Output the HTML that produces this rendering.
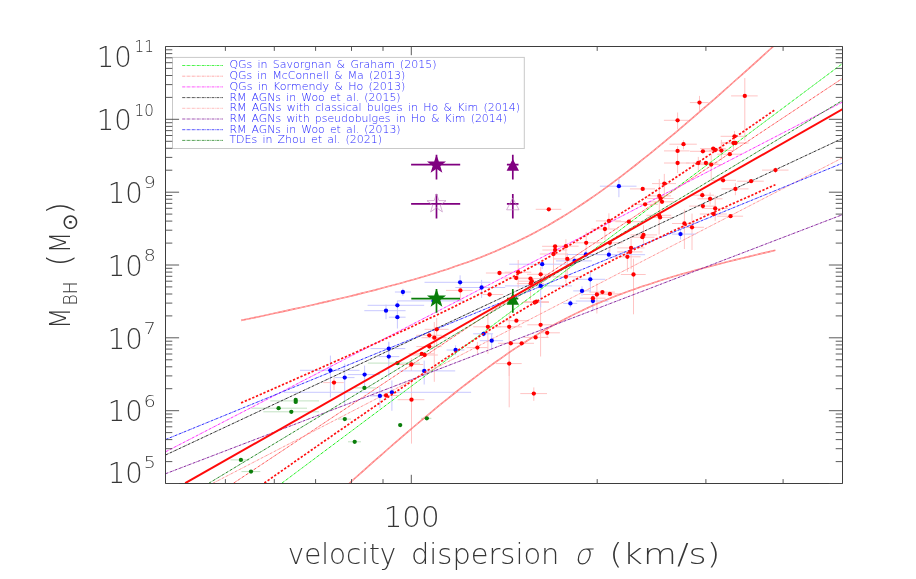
<!DOCTYPE html>
<html lang="en"><head><meta charset="utf-8"><title>M_BH - sigma relation</title>
<style>
html,body{margin:0;padding:0;background:#fff;}
body{width:916px;height:579px;overflow:hidden;}
svg{display:block;}
text{font-family:"DejaVu Sans","Liberation Sans",sans-serif;font-weight:200;fill:#363636;}
.lg text{fill:#1c1cff;font-size:11px;word-spacing:1.7px;}
.ax{stroke:#333;stroke-width:0.95;fill:none;}
.dd{fill:none;stroke-width:1;stroke-dasharray:2.8 0.7 0.7 0.7;}
.er{stroke:#ffc4c4;stroke-width:1;fill:none;}
.eb{stroke:#c8c8ff;stroke-width:1;fill:none;}
.eg{stroke:#c2e2c2;stroke-width:1;fill:none;}
</style></head><body>
<svg width="916" height="579" viewBox="0 0 916 579">
<rect x="0" y="0" width="916" height="579" fill="#fff"/>
<defs><clipPath id="cp"><rect x="165.5" y="46.5" width="677.0" height="437.0"/></clipPath></defs>
<rect x="172.5" y="57.4" width="351.8" height="91.1" fill="none" stroke="#c9c9c9" stroke-width="1"/>
<g clip-path="url(#cp)">
<path class="er" d="M372.5 395.5H399.2M397.6 399.7H424.4M411.5 380.0V443.6M473.2 326.8H501.1M487.9 314.0V353.9M496.0 326.8H522.0M509.2 313.0V407.3M503.4 320.7H528.9M527.3 324.8H552.5M540.6 303.3V356.5M540.0 332.8H559.9M547.2 328.0V338.0M524.0 337.4H548.6M508.9 343.3H534.0M498.1 343.3H523.1M495.9 363.6H521.7M509.2 352.0V376.0M520.3 393.6H547.0M533.8 387.4V400.9M446.0 290.4H472.6M460.4 290.0V300.5M424.6 329.3H448.6M436.7 318.0V345.0M416.2 335.3H441.9M421.5 337.7H446.6M434.3 322.0V381.8M416.4 346.6H441.7M408.6 353.8H434.5M410.8 355.0H437.9M395.4 364.5H423.2M411.3 358.0V371.0M466.5 347.6H487.8M477.4 341.9V353.9M323.2 382.6H343.8M334.0 377.5V390.1M482.6 294.5H503.2M485.9 273.0H511.8M504.6 272.2H531.3M518.2 260.0V288.0M503.4 278.0H528.5M517.0 278.6H541.0M530.5 278.6V300.0M518.3 281.2H544.7M516.9 283.6H544.0M527.0 274.3H553.8M540.7 267.0V282.0M542.1 246.3H567.6M542.4 250.0H567.3M539.8 254.0H566.7M553.5 254.0V271.8M521.8 302.5H549.0M523.4 301.6H548.9M535.7 209.3H561.3M548.8 207.5V211.0M552.7 246.2H578.6M565.9 239.2V258.5M554.0 258.9H580.1M567.3 253.2V277.0M574.6 242.8H598.5M586.2 231.9V251.9M591.4 229.0H617.8M604.9 222.6V239.9M595.9 220.9H621.1M608.9 213.3V228.6M596.4 242.8H622.7M609.8 242.8V251.9M615.4 221.7H641.9M631.8 204.3H657.9M630.5 234.9H657.0M643.5 225.3V245.2M629.8 237.2H654.5M617.1 247.9H644.6M631.1 238.6V269.2M617.2 251.9H642.5M613.7 256.8H640.6M627.4 256.7V271.8M620.9 274.5H645.7M633.5 258.7V314.3M646.5 215.3H671.2M659.1 215.0V234.6M647.1 217.4H672.6M552.3 276.8H579.0M565.9 268.3V282.9M669.4 144.2H696.8M683.5 140.3V149.3M664.0 150.9H689.6M677.6 146.2V150.9M664.0 163.0H689.6M677.6 150.9V173.1M690.0 151.3H715.3M700.0 148.6H725.9M701.8 150.0H728.1M709.0 150.6H733.5M721.4 139.9V160.5M720.6 136.3H747.0M734.5 131.0V143.0M720.6 143.0H747.0M733.5 143.0V150.0M721.9 143.0H748.6M717.1 154.2H742.0M686.0 163.0H710.0M698.3 156.9V170.4M692.9 163.0H718.4M699.0 164.6H723.0M711.2 154.2V180.3M709.7 180.3H736.0M737.2 181.2H763.8M721.4 188.9H748.5M735.4 183.2V195.2M690.0 195.2H714.0M702.3 191.0V199.0M697.5 198.8H722.5M710.1 192.5V204.5M689.1 206.1H716.1M652.0 183.6H676.0M664.3 173.9V199.2M629.9 188.9H655.0M647.0 195.9H671.0M659.3 179.0V212.0M647.1 198.5H673.6M648.1 201.8H675.4M663.9 120.3H688.5M677.6 112.5V129.2M689.9 102.6H708.5M699.5 95.9V111.2M731.1 95.9H757.7M744.8 78.0V140.6M589.4 292.1H614.9M596.5 293.9H622.8M717.2 216.2H743.1M672.0 223.5H696.0M684.4 209.6V249.0M680.0 227.3H704.0M692.0 213.6V250.0M762.0 170.1H788.5M775.5 167.5V173.0M702.0 208.5H727.9M715.2 195.6V220.9M699.8 214.0H726.9M579.7 298.2H605.6M583.1 294.5H610.2M596.9 283.6V313.5"/>
<path class="eb" d="M370.0 395.9H389.0M379.9 387.0V408.0M283.7 392.3H471.1M391.9 380.5V410.8M473.2 333.8H493.1M483.6 332.0V336.6M479.8 340.7H503.1M491.7 333.9V348.6M563.2 303.4H577.2M570.4 300.0V307.3M575.8 301.0H608.4M592.9 294.0V310.0M394.9 292.0H410.9M402.9 288.6V295.9M367.6 305.3H424.2M397.4 300.6V311.0M364.3 310.7H405.6M386.0 304.6V319.2M388.9 317.2H405.6M397.4 311.0V328.5M446.6 350.0H464.5M455.6 345.3V355.2M370.5 348.6H405.3M388.8 341.7V355.6M378.5 356.6H399.3M388.8 342.3V377.4M399.3 370.9H455.2M424.2 360.6V384.5M300.0 370.3H359.6M330.4 355.6V397.5M334.5 377.6H354.5M344.7 363.6V405.5M347.8 374.6H379.8M364.6 365.6V386.9M424.5 282.3H490.5M460.1 275.3V285.9M455.3 287.5H505.2M481.6 279.9V297.9M509.2 264.2H574.6M542.2 260.0V269.0M505.0 285.9H572.0M540.7 286.0V307.3M556.0 260.9H591.9M574.6 257.0V265.0M566.6 254.5H606.5M585.9 251.0V258.5M595.9 254.7H645.1M608.9 250.0V258.5M672.0 234.1H695.9M680.5 228.9V239.5M573.3 279.3H605.2M590.3 270.3V292.2M573.2 290.9H590.5M582.0 286.3V295.6M599.9 186.2H636.5M618.9 178.6V197.2M397.6 300.9H464.0M433.5 297.0V305.0"/>
<path class="eg" d="M270.3 400.9H319.0M251.4 408.2H307.0M263.3 411.8H319.0M230.5 459.9H249.4M241.5 471.6H260.3M354.5 387.9H375.8M338.0 419.1H351.0M421.0 418.3H431.4M348.0 441.8H361.0M367.8 363.1H420.0"/>
<path d="M241.1 320.4L247.8 319.0L254.5 317.6L261.1 316.2L267.8 314.7L274.5 313.3L281.2 311.9L287.9 310.4L294.5 308.9L301.2 307.5L307.9 306.0L314.6 304.5L321.2 302.9L327.9 301.4L334.6 299.8L341.3 298.3L348.0 296.7L354.6 295.1L361.3 293.4L368.0 291.7L374.7 290.1L381.4 288.3L388.0 286.6L394.7 284.8L401.4 283.0L408.1 281.1L414.7 279.2L421.4 277.2L428.1 275.2L434.8 273.2L441.5 271.1L448.1 268.9L454.8 266.6L461.5 264.3L468.2 261.9L474.9 259.4L481.5 256.9L488.2 254.2L494.9 251.5L501.6 248.6L508.2 245.6L514.9 242.5L521.6 239.3L528.3 236.0L535.0 232.5L541.6 228.9L548.3 225.2L555.0 221.3L561.7 217.3L568.4 213.1L575.0 208.9L581.7 204.5L588.4 200.0L595.1 195.4L601.8 190.6L608.4 185.8L615.1 180.8L621.8 175.8L628.5 170.7L635.1 165.5L641.8 160.2L648.5 154.8L655.2 149.4L661.9 143.9L668.5 138.4L675.2 132.8L681.9 127.1L688.6 121.4L695.3 115.7L701.9 109.9L708.6 104.1L715.3 98.3L722.0 92.4L728.6 86.5L735.3 80.5L742.0 74.6L748.7 68.6L755.4 62.6L762.0 56.6L768.7 50.5L775.4 44.5" fill="none" stroke="#ff8080" stroke-width="1.6"/>
<path d="M241.1 320.4L247.8 319.0L254.5 317.6L261.1 316.2L267.8 314.7L274.5 313.3L281.2 311.9L287.9 310.4L294.5 308.9L301.2 307.5L307.9 306.0L314.6 304.5L321.2 302.9L327.9 301.4L334.6 299.8L341.3 298.3L348.0 296.7L354.6 295.1L361.3 293.4L368.0 291.7L374.7 290.1L381.4 288.3L388.0 286.6L394.7 284.8L401.4 283.0L408.1 281.1L414.7 279.2L421.4 277.2L428.1 275.2L434.8 273.2L441.5 271.1L448.1 268.9L454.8 266.6L461.5 264.3L468.2 261.9L474.9 259.4L481.5 256.9L488.2 254.2L494.9 251.5L501.6 248.6L508.2 245.6L514.9 242.5L521.6 239.3L528.3 236.0L535.0 232.5L541.6 228.9L548.3 225.2L555.0 221.3L561.7 217.3L568.4 213.1L575.0 208.9L581.7 204.5L588.4 200.0L595.1 195.4L601.8 190.6L608.4 185.8L615.1 180.8L621.8 175.8L628.5 170.7L635.1 165.5L641.8 160.2L648.5 154.8L655.2 149.4L661.9 143.9L668.5 138.4L675.2 132.8L681.9 127.1L688.6 121.4L695.3 115.7L701.9 109.9L708.6 104.1L715.3 98.3L722.0 92.4L728.6 86.5L735.3 80.5L742.0 74.6L748.7 68.6L755.4 62.6L762.0 56.6L768.7 50.5L775.4 44.5" fill="none" stroke="#ffd0d0" stroke-width="0.6" stroke-dasharray="3 2"/>
<path d="M241.1 582.4L247.8 576.2L254.5 570.0L261.1 563.8L267.8 557.7L274.5 551.5L281.2 545.3L287.9 539.2L294.5 533.0L301.2 526.9L307.9 520.8L314.6 514.7L321.2 508.6L327.9 502.6L334.6 496.5L341.3 490.5L348.0 484.5L354.6 478.5L361.3 472.6L368.0 466.6L374.7 460.7L381.4 454.9L388.0 449.0L394.7 443.2L401.4 437.4L408.1 431.7L414.7 426.0L421.4 420.4L428.1 414.8L434.8 409.2L441.5 403.7L448.1 398.3L454.8 393.0L461.5 387.7L468.2 382.5L474.9 377.3L481.5 372.3L488.2 367.4L494.9 362.5L501.6 357.8L508.2 353.2L514.9 348.7L521.6 344.3L528.3 340.0L535.0 335.9L541.6 331.9L548.3 328.0L555.0 324.3L561.7 320.7L568.4 317.2L575.0 313.9L581.7 310.7L588.4 307.6L595.1 304.6L601.8 301.8L608.4 299.0L615.1 296.3L621.8 293.8L628.5 291.3L635.1 288.9L641.8 286.6L648.5 284.4L655.2 282.2L661.9 280.1L668.5 278.0L675.2 276.0L681.9 274.1L688.6 272.2L695.3 270.3L701.9 268.5L708.6 266.7L715.3 264.9L722.0 263.2L728.6 261.5L735.3 259.9L742.0 258.2L748.7 256.6L755.4 255.0L762.0 253.4L768.7 251.9L775.4 250.3" fill="none" stroke="#ff8080" stroke-width="1.6"/>
<path d="M241.1 582.4L247.8 576.2L254.5 570.0L261.1 563.8L267.8 557.7L274.5 551.5L281.2 545.3L287.9 539.2L294.5 533.0L301.2 526.9L307.9 520.8L314.6 514.7L321.2 508.6L327.9 502.6L334.6 496.5L341.3 490.5L348.0 484.5L354.6 478.5L361.3 472.6L368.0 466.6L374.7 460.7L381.4 454.9L388.0 449.0L394.7 443.2L401.4 437.4L408.1 431.7L414.7 426.0L421.4 420.4L428.1 414.8L434.8 409.2L441.5 403.7L448.1 398.3L454.8 393.0L461.5 387.7L468.2 382.5L474.9 377.3L481.5 372.3L488.2 367.4L494.9 362.5L501.6 357.8L508.2 353.2L514.9 348.7L521.6 344.3L528.3 340.0L535.0 335.9L541.6 331.9L548.3 328.0L555.0 324.3L561.7 320.7L568.4 317.2L575.0 313.9L581.7 310.7L588.4 307.6L595.1 304.6L601.8 301.8L608.4 299.0L615.1 296.3L621.8 293.8L628.5 291.3L635.1 288.9L641.8 286.6L648.5 284.4L655.2 282.2L661.9 280.1L668.5 278.0L675.2 276.0L681.9 274.1L688.6 272.2L695.3 270.3L701.9 268.5L708.6 266.7L715.3 264.9L722.0 263.2L728.6 261.5L735.3 259.9L742.0 258.2L748.7 256.6L755.4 255.0L762.0 253.4L768.7 251.9L775.4 250.3" fill="none" stroke="#ffd0d0" stroke-width="0.6" stroke-dasharray="3 2"/>
<line class="dd" x1="281.8" y1="483.2" x2="842.7" y2="63.4" stroke="#22f022" stroke-width="1.2"/>
<line class="dd" x1="233.5" y1="483.2" x2="842.7" y2="78.2" stroke="#ff5a5a" stroke-width="1.1"/>
<line class="dd" x1="165.4" y1="451.9" x2="842.7" y2="102.0" stroke="#ff30ff" stroke-width="1.0"/>
<line class="dd" x1="165.4" y1="455.1" x2="842.7" y2="138.3" stroke="#303030" stroke-width="1.0"/>
<line class="dd" x1="213.0" y1="483.2" x2="842.7" y2="157.7" stroke="#ff9a9a" stroke-width="1.2"/>
<line class="dd" x1="165.4" y1="473.8" x2="842.7" y2="214.6" stroke="#8a2aa0" stroke-width="1.5"/>
<line class="dd" x1="165.4" y1="439.6" x2="842.7" y2="163.1" stroke="#3030ff" stroke-width="1.0"/>
<line class="dd" x1="208.9" y1="483.2" x2="842.7" y2="100.3" stroke="#2a8a2a" stroke-width="1.0"/>
<g fill="#0a7d0a"><circle cx="295.7" cy="399.9" r="2.15"/><circle cx="295.7" cy="401.9" r="2.15"/><circle cx="278.6" cy="408.2" r="2.15"/><circle cx="291.3" cy="411.8" r="2.15"/><circle cx="240.9" cy="459.9" r="2.15"/><circle cx="251.0" cy="471.6" r="2.15"/><circle cx="364.4" cy="387.9" r="2.15"/><circle cx="344.8" cy="419.1" r="2.15"/><circle cx="400.2" cy="425.1" r="2.15"/><circle cx="426.8" cy="418.3" r="2.15"/><circle cx="354.7" cy="441.8" r="2.15"/><circle cx="397.5" cy="363.1" r="2.15"/></g>
<g fill="#0000ff"><circle cx="379.9" cy="395.9" r="2.15"/><circle cx="391.9" cy="392.3" r="2.15"/><circle cx="483.6" cy="333.8" r="2.15"/><circle cx="491.7" cy="340.7" r="2.15"/><circle cx="570.4" cy="303.4" r="2.15"/><circle cx="592.9" cy="301.0" r="2.15"/><circle cx="402.9" cy="292.0" r="2.15"/><circle cx="397.4" cy="305.3" r="2.15"/><circle cx="386.0" cy="310.7" r="2.15"/><circle cx="397.4" cy="317.2" r="2.15"/><circle cx="455.6" cy="350.0" r="2.15"/><circle cx="388.8" cy="348.6" r="2.15"/><circle cx="388.8" cy="356.6" r="2.15"/><circle cx="424.2" cy="370.9" r="2.15"/><circle cx="330.4" cy="370.3" r="2.15"/><circle cx="344.7" cy="377.6" r="2.15"/><circle cx="364.6" cy="374.6" r="2.15"/><circle cx="460.1" cy="282.3" r="2.15"/><circle cx="481.6" cy="287.5" r="2.15"/><circle cx="542.2" cy="264.2" r="2.15"/><circle cx="540.7" cy="285.9" r="2.15"/><circle cx="574.6" cy="260.9" r="2.15"/><circle cx="585.9" cy="254.5" r="2.15"/><circle cx="608.9" cy="254.7" r="2.15"/><circle cx="680.5" cy="234.1" r="2.15"/><circle cx="590.3" cy="279.3" r="2.15"/><circle cx="582.0" cy="290.9" r="2.15"/><circle cx="618.9" cy="186.2" r="2.15"/><circle cx="433.5" cy="300.9" r="2.15"/></g>
<g fill="#ff0000"><circle cx="386.1" cy="395.5" r="2.15"/><circle cx="411.5" cy="399.7" r="2.15"/><circle cx="487.9" cy="326.8" r="2.15"/><circle cx="509.2" cy="326.8" r="2.15"/><circle cx="516.4" cy="320.7" r="2.15"/><circle cx="540.6" cy="324.8" r="2.15"/><circle cx="547.2" cy="332.8" r="2.15"/><circle cx="535.6" cy="337.4" r="2.15"/><circle cx="521.7" cy="343.3" r="2.15"/><circle cx="510.8" cy="343.3" r="2.15"/><circle cx="509.2" cy="363.6" r="2.15"/><circle cx="533.8" cy="393.6" r="2.15"/><circle cx="460.4" cy="290.4" r="2.15"/><circle cx="436.7" cy="329.3" r="2.15"/><circle cx="429.3" cy="335.3" r="2.15"/><circle cx="434.3" cy="337.7" r="2.15"/><circle cx="429.3" cy="346.6" r="2.15"/><circle cx="421.8" cy="353.8" r="2.15"/><circle cx="424.6" cy="355.0" r="2.15"/><circle cx="411.3" cy="364.5" r="2.15"/><circle cx="477.4" cy="347.6" r="2.15"/><circle cx="334.0" cy="382.6" r="2.15"/><circle cx="489.6" cy="294.5" r="2.15"/><circle cx="499.5" cy="273.0" r="2.15"/><circle cx="518.2" cy="272.2" r="2.15"/><circle cx="516.2" cy="278.0" r="2.15"/><circle cx="530.5" cy="278.6" r="2.15"/><circle cx="531.8" cy="281.2" r="2.15"/><circle cx="530.7" cy="283.6" r="2.15"/><circle cx="540.7" cy="274.3" r="2.15"/><circle cx="555.1" cy="246.3" r="2.15"/><circle cx="555.1" cy="250.0" r="2.15"/><circle cx="553.5" cy="254.0" r="2.15"/><circle cx="534.7" cy="302.5" r="2.15"/><circle cx="536.4" cy="301.6" r="2.15"/><circle cx="548.8" cy="209.3" r="2.15"/><circle cx="565.9" cy="246.2" r="2.15"/><circle cx="567.3" cy="258.9" r="2.15"/><circle cx="586.2" cy="242.8" r="2.15"/><circle cx="604.9" cy="229.0" r="2.15"/><circle cx="608.9" cy="220.9" r="2.15"/><circle cx="609.8" cy="242.8" r="2.15"/><circle cx="628.9" cy="221.7" r="2.15"/><circle cx="645.1" cy="204.3" r="2.15"/><circle cx="643.5" cy="234.9" r="2.15"/><circle cx="642.4" cy="237.2" r="2.15"/><circle cx="631.1" cy="247.9" r="2.15"/><circle cx="630.1" cy="251.9" r="2.15"/><circle cx="627.4" cy="256.8" r="2.15"/><circle cx="633.5" cy="274.5" r="2.15"/><circle cx="659.1" cy="215.3" r="2.15"/><circle cx="660.1" cy="217.4" r="2.15"/><circle cx="565.9" cy="276.8" r="2.15"/><circle cx="683.5" cy="144.2" r="2.15"/><circle cx="677.6" cy="150.9" r="2.15"/><circle cx="677.6" cy="163.0" r="2.15"/><circle cx="702.9" cy="151.3" r="2.15"/><circle cx="713.2" cy="148.6" r="2.15"/><circle cx="715.2" cy="150.0" r="2.15"/><circle cx="721.4" cy="150.6" r="2.15"/><circle cx="734.5" cy="136.3" r="2.15"/><circle cx="733.5" cy="143.0" r="2.15"/><circle cx="735.5" cy="143.0" r="2.15"/><circle cx="729.8" cy="154.2" r="2.15"/><circle cx="698.3" cy="163.0" r="2.15"/><circle cx="705.9" cy="163.0" r="2.15"/><circle cx="711.2" cy="164.6" r="2.15"/><circle cx="723.1" cy="180.3" r="2.15"/><circle cx="751.1" cy="181.2" r="2.15"/><circle cx="735.4" cy="188.9" r="2.15"/><circle cx="702.3" cy="195.2" r="2.15"/><circle cx="710.1" cy="198.8" r="2.15"/><circle cx="702.9" cy="206.1" r="2.15"/><circle cx="664.3" cy="183.6" r="2.15"/><circle cx="642.7" cy="188.9" r="2.15"/><circle cx="659.3" cy="195.9" r="2.15"/><circle cx="660.6" cy="198.5" r="2.15"/><circle cx="662.0" cy="201.8" r="2.15"/><circle cx="677.6" cy="120.3" r="2.15"/><circle cx="699.5" cy="102.6" r="2.15"/><circle cx="744.8" cy="95.9" r="2.15"/><circle cx="602.4" cy="292.1" r="2.15"/><circle cx="609.9" cy="293.9" r="2.15"/><circle cx="730.5" cy="216.2" r="2.15"/><circle cx="684.4" cy="223.5" r="2.15"/><circle cx="692.0" cy="227.3" r="2.15"/><circle cx="775.5" cy="170.1" r="2.15"/><circle cx="715.2" cy="208.5" r="2.15"/><circle cx="713.6" cy="214.0" r="2.15"/><circle cx="592.9" cy="298.2" r="2.15"/><circle cx="596.9" cy="294.5" r="2.15"/></g>
<path d="M411.1 164.7H460.2M436.5 154.7V179.4" stroke="#800080" stroke-width="1.7" fill="none"/>
<polygon points="436.50,154.70 438.85,161.46 446.01,161.61 440.30,165.94 442.38,172.79 436.50,168.70 430.62,172.79 432.70,165.94 426.99,161.61 434.15,161.46" fill="#800080"/>
<path d="M411.1 203.8H460.2M436.5 193.9V218.4" stroke="#800080" stroke-width="1.7" fill="none"/>
<polygon points="436.50,193.80 438.85,200.56 446.01,200.71 440.30,205.04 442.38,211.89 436.50,207.80 430.62,211.89 432.70,205.04 426.99,200.71 434.15,200.56" fill="none" stroke="#c088c0" stroke-width="0.65"/>
<path d="M506.9 164.7H518.5M512.8 154.7V179.4" stroke="#800080" stroke-width="1.7" fill="none"/>
<polygon points="512.8,158.9 519,170.7 506.6,170.7" fill="#800080"/>
<path d="M506.9 203.8H518.5M512.8 193.9V218.4" stroke="#800080" stroke-width="1.7" fill="none"/>
<polygon points="512.8,198 519,209.8 506.6,209.8" fill="none" stroke="#c088c0" stroke-width="0.65"/>
<path d="M411.3 298.7H460M436.5 288.9V312.8" stroke="#087d08" stroke-width="1.7" fill="none"/>
<polygon points="436.50,288.70 438.85,295.46 446.01,295.61 440.30,299.94 442.38,306.79 436.50,302.70 430.62,306.79 432.70,299.94 426.99,295.61 434.15,295.46" fill="#087d08"/>
<path d="M507 298.7H518.3M512.8 288.9V312.8" stroke="#087d08" stroke-width="1.7" fill="none"/>
<polygon points="512.8,293.2 519,304.7 506.6,304.7" fill="#087d08"/>
<path d="M241.1 402.9L247.8 400.0L254.5 397.1L261.1 394.2L267.8 391.2L274.5 388.3L281.2 385.4L287.9 382.4L294.5 379.5L301.2 376.5L307.9 373.6L314.6 370.6L321.2 367.7L327.9 364.7L334.6 361.7L341.3 358.7L348.0 355.8L354.6 352.8L361.3 349.8L368.0 346.7L374.7 343.7L381.4 340.7L388.0 337.6L394.7 334.6L401.4 331.5L408.1 328.4L414.7 325.3L421.4 322.2L428.1 319.0L434.8 315.9L441.5 312.7L448.1 309.5L454.8 306.3L461.5 303.0L468.2 299.7L474.9 296.4L481.5 293.1L488.2 289.7L494.9 286.3L501.6 282.8L508.2 279.3L514.9 275.8L521.6 272.2L528.3 268.6L535.0 264.9L541.6 261.2L548.3 257.4L555.0 253.6L561.7 249.7L568.4 245.8L575.0 241.8L581.7 237.8L588.4 233.8L595.1 229.7L601.8 225.6L608.4 221.4L615.1 217.2L621.8 212.9L628.5 208.6L635.1 204.3L641.8 200.0L648.5 195.6L655.2 191.2L661.9 186.8L668.5 182.4L675.2 177.9L681.9 173.5L688.6 169.0L695.3 164.5L701.9 159.9L708.6 155.4L715.3 150.8L722.0 146.3L728.6 141.7L735.3 137.1L742.0 132.5L748.7 127.9L755.4 123.3L762.0 118.7L768.7 114.1L775.4 109.5" fill="none" stroke="#ff1010" stroke-width="1.7" stroke-dasharray="2.3 1.75"/>
<path d="M241.1 499.3L247.8 494.6L254.5 490.0L261.1 485.3L267.8 480.6L274.5 475.9L281.2 471.2L287.9 466.6L294.5 461.9L301.2 457.2L307.9 452.6L314.6 447.9L321.2 443.3L327.9 438.7L334.6 434.0L341.3 429.4L348.0 424.8L354.6 420.2L361.3 415.6L368.0 411.0L374.7 406.4L381.4 401.8L388.0 397.2L394.7 392.7L401.4 388.1L408.1 383.6L414.7 379.1L421.4 374.6L428.1 370.1L434.8 365.7L441.5 361.2L448.1 356.8L454.8 352.4L461.5 348.1L468.2 343.7L474.9 339.4L481.5 335.1L488.2 330.9L494.9 326.7L501.6 322.5L508.2 318.4L514.9 314.3L521.6 310.3L528.3 306.3L535.0 302.4L541.6 298.5L548.3 294.7L555.0 290.9L561.7 287.2L568.4 283.5L575.0 279.9L581.7 276.3L588.4 272.7L595.1 269.3L601.8 265.8L608.4 262.4L615.1 259.0L621.8 255.7L628.5 252.4L635.1 249.1L641.8 245.9L648.5 242.7L655.2 239.5L661.9 236.3L668.5 233.2L675.2 230.0L681.9 226.9L688.6 223.8L695.3 220.7L701.9 217.7L708.6 214.6L715.3 211.6L722.0 208.6L728.6 205.5L735.3 202.5L742.0 199.5L748.7 196.6L755.4 193.6L762.0 190.6L768.7 187.6L775.4 184.7" fill="none" stroke="#ff1010" stroke-width="1.7" stroke-dasharray="2.3 1.75"/>
<line x1="185.2" y1="483.2" x2="842.7" y2="109.1" stroke="#ff0a0a" stroke-width="1.95"/>
</g>
<path class="ax" d="M165.5 46.5H842.5V483.5H165.5Z"/>
<path class="ax" style="stroke:#484848;stroke-width:0.9" d="M225.4 483.5v-4.4M225.4 46.5v4.4M274.3 483.5v-4.4M274.3 46.5v4.4M315.6 483.5v-4.4M315.6 46.5v4.4M351.5 483.5v-4.4M351.5 46.5v4.4M383.0 483.5v-4.4M383.0 46.5v4.4M597.2 483.5v-4.4M597.2 46.5v4.4M705.9 483.5v-4.4M705.9 46.5v4.4M783.1 483.5v-4.4M783.1 46.5v4.4M411.3 483.5v-8.7M411.3 46.5v8.7M165.5 483.5h13.6M842.5 483.5h-13.6M165.5 461.6h6.8M842.5 461.6h-6.8M165.5 448.7h6.8M842.5 448.7h-6.8M165.5 439.6h6.8M842.5 439.6h-6.8M165.5 432.6h6.8M842.5 432.6h-6.8M165.5 426.8h6.8M842.5 426.8h-6.8M165.5 421.9h6.8M842.5 421.9h-6.8M165.5 417.7h6.8M842.5 417.7h-6.8M165.5 414.0h6.8M842.5 414.0h-6.8M165.5 410.7h13.6M842.5 410.7h-13.6M165.5 388.7h6.8M842.5 388.7h-6.8M165.5 375.9h6.8M842.5 375.9h-6.8M165.5 366.8h6.8M842.5 366.8h-6.8M165.5 359.8h6.8M842.5 359.8h-6.8M165.5 354.0h6.8M842.5 354.0h-6.8M165.5 349.1h6.8M842.5 349.1h-6.8M165.5 344.9h6.8M842.5 344.9h-6.8M165.5 341.2h6.8M842.5 341.2h-6.8M165.5 337.8h13.6M842.5 337.8h-13.6M165.5 315.9h6.8M842.5 315.9h-6.8M165.5 303.1h6.8M842.5 303.1h-6.8M165.5 294.0h6.8M842.5 294.0h-6.8M165.5 286.9h6.8M842.5 286.9h-6.8M165.5 281.2h6.8M842.5 281.2h-6.8M165.5 276.3h6.8M842.5 276.3h-6.8M165.5 272.1h6.8M842.5 272.1h-6.8M165.5 268.3h6.8M842.5 268.3h-6.8M165.5 265.0h13.6M842.5 265.0h-13.6M165.5 243.1h6.8M842.5 243.1h-6.8M165.5 230.2h6.8M842.5 230.2h-6.8M165.5 221.1h6.8M842.5 221.1h-6.8M165.5 214.1h6.8M842.5 214.1h-6.8M165.5 208.3h6.8M842.5 208.3h-6.8M165.5 203.4h6.8M842.5 203.4h-6.8M165.5 199.2h6.8M842.5 199.2h-6.8M165.5 195.5h6.8M842.5 195.5h-6.8M165.5 192.2h13.6M842.5 192.2h-13.6M165.5 170.2h6.8M842.5 170.2h-6.8M165.5 157.4h6.8M842.5 157.4h-6.8M165.5 148.3h6.8M842.5 148.3h-6.8M165.5 141.3h6.8M842.5 141.3h-6.8M165.5 135.5h6.8M842.5 135.5h-6.8M165.5 130.6h6.8M842.5 130.6h-6.8M165.5 126.4h6.8M842.5 126.4h-6.8M165.5 122.7h6.8M842.5 122.7h-6.8M165.5 119.3h13.6M842.5 119.3h-13.6M165.5 97.4h6.8M842.5 97.4h-6.8M165.5 84.6h6.8M842.5 84.6h-6.8M165.5 75.5h6.8M842.5 75.5h-6.8M165.5 68.4h6.8M842.5 68.4h-6.8M165.5 62.7h6.8M842.5 62.7h-6.8M165.5 57.8h6.8M842.5 57.8h-6.8M165.5 53.6h6.8M842.5 53.6h-6.8M165.5 49.8h6.8M842.5 49.8h-6.8M165.5 46.5h13.6M842.5 46.5h-13.6"/>
<text x="96.8" y="66.8" font-size="28.5" textLength="35" lengthAdjust="spacingAndGlyphs">10</text>
<text x="134.5" y="51.9" font-size="16.2" textLength="19.3" lengthAdjust="spacingAndGlyphs">11</text>
<text x="96.8" y="130.4" font-size="28.5" textLength="35" lengthAdjust="spacingAndGlyphs">10</text>
<text x="134.5" y="115.5" font-size="16.2" textLength="19.3" lengthAdjust="spacingAndGlyphs">10</text>
<text x="107.8" y="203.1" font-size="28.5" textLength="35" lengthAdjust="spacingAndGlyphs">10</text>
<text x="143.8" y="188.2" font-size="16.2" textLength="12" lengthAdjust="spacingAndGlyphs">9</text>
<text x="107.8" y="275.9" font-size="28.5" textLength="35" lengthAdjust="spacingAndGlyphs">10</text>
<text x="143.8" y="261.0" font-size="16.2" textLength="12" lengthAdjust="spacingAndGlyphs">8</text>
<text x="107.8" y="348.6" font-size="28.5" textLength="35" lengthAdjust="spacingAndGlyphs">10</text>
<text x="143.8" y="333.7" font-size="16.2" textLength="12" lengthAdjust="spacingAndGlyphs">7</text>
<text x="107.8" y="421.4" font-size="28.5" textLength="35" lengthAdjust="spacingAndGlyphs">10</text>
<text x="143.8" y="406.5" font-size="16.2" textLength="12" lengthAdjust="spacingAndGlyphs">6</text>
<text x="107.8" y="483.1" font-size="28.5" textLength="35" lengthAdjust="spacingAndGlyphs">10</text>
<text x="143.8" y="468.2" font-size="16.2" textLength="12" lengthAdjust="spacingAndGlyphs">5</text>
<text x="383.7" y="526.5" font-size="28.5" textLength="56" lengthAdjust="spacingAndGlyphs">100</text>
<text x="287.8" y="563.6" font-size="28.5" textLength="108.5" lengthAdjust="spacingAndGlyphs">velocity</text>
<text x="411" y="563.6" font-size="28.5" textLength="148.4" lengthAdjust="spacingAndGlyphs">dispersion</text>
<text x="0" y="0" font-size="28.5" transform="translate(574 563.6) skewX(-14)" textLength="17.3" lengthAdjust="spacingAndGlyphs">σ</text>
<text x="609.3" y="563.6" font-size="28.5" textLength="111" lengthAdjust="spacingAndGlyphs">(km/s)</text>
<g transform="translate(69.5 328.3) rotate(-90)">
<text x="-0.75" y="0" font-size="28.5" textLength="21.6" lengthAdjust="spacingAndGlyphs">M</text>
<text x="22.8" y="7.2" font-size="18.6" textLength="24" lengthAdjust="spacingAndGlyphs">BH</text>
<text x="61.5" y="0.6" font-size="31.5" textLength="13" lengthAdjust="spacingAndGlyphs">(</text>
<text x="75.15" y="0" font-size="28.5" textLength="21.6" lengthAdjust="spacingAndGlyphs">M</text>
<text x="97.65" y="7.35" font-size="20.7">⊙</text>
<text x="113.5" y="0.6" font-size="31.5" textLength="13" lengthAdjust="spacingAndGlyphs">)</text>
</g>
<g class="lg">
<line class="dd" x1="182.2" y1="65.5" x2="223" y2="65.5" stroke="#22f022" stroke-width="1.0" stroke-opacity="0.8"/>
<text x="229.4" y="68.3" textLength="207.1" lengthAdjust="spacingAndGlyphs">QGs in Savorgnan &amp; Graham (2015)</text>
<line class="dd" x1="182.2" y1="76.2" x2="223" y2="76.2" stroke="#ff9a9a" stroke-width="1.8" stroke-opacity="0.8"/>
<text x="229.4" y="79.0" textLength="175.9" lengthAdjust="spacingAndGlyphs">QGs in McConnell &amp; Ma (2013)</text>
<line class="dd" x1="182.2" y1="86.9" x2="223" y2="86.9" stroke="#ff30ff" stroke-width="1.0" stroke-opacity="0.8"/>
<text x="229.4" y="89.7" textLength="175.9" lengthAdjust="spacingAndGlyphs">QGs in Kormendy &amp; Ho (2013)</text>
<line class="dd" x1="182.2" y1="97.6" x2="223" y2="97.6" stroke="#303030" stroke-width="1.0" stroke-opacity="0.8"/>
<text x="229.4" y="100.5" textLength="171.2" lengthAdjust="spacingAndGlyphs">RM AGNs in Woo et al. (2015)</text>
<line class="dd" x1="182.2" y1="108.3" x2="223" y2="108.3" stroke="#ffb0b0" stroke-width="1.6" stroke-opacity="0.8"/>
<text x="229.4" y="111.2" textLength="290.6" lengthAdjust="spacingAndGlyphs">RM AGNs with classical bulges in Ho &amp; Kim (2014)</text>
<line class="dd" x1="182.2" y1="119.0" x2="223" y2="119.0" stroke="#8a2aa0" stroke-width="1.4" stroke-opacity="0.8"/>
<text x="229.4" y="121.9" textLength="277.6" lengthAdjust="spacingAndGlyphs">RM AGNs with pseudobulges in Ho &amp; Kim (2014)</text>
<line class="dd" x1="182.2" y1="129.7" x2="223" y2="129.7" stroke="#3030ff" stroke-width="1.0" stroke-opacity="0.8"/>
<text x="229.4" y="132.6" textLength="171.2" lengthAdjust="spacingAndGlyphs">RM AGNs in Woo et al. (2013)</text>
<line class="dd" x1="182.2" y1="140.4" x2="223" y2="140.4" stroke="#2a8a2a" stroke-width="1.0" stroke-opacity="0.8"/>
<text x="229.4" y="143.3" textLength="152.7" lengthAdjust="spacingAndGlyphs">TDEs in Zhou et al. (2021)</text>
</g>
</svg></body></html>
